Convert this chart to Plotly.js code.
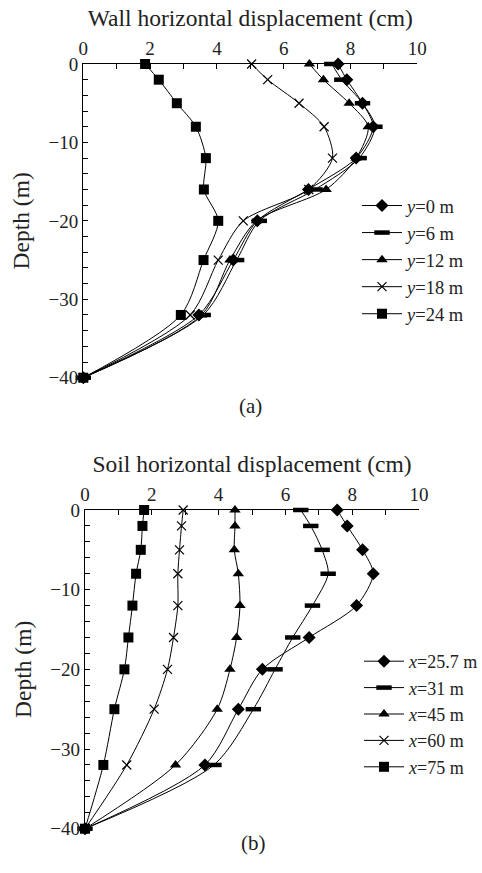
<!DOCTYPE html>
<html><head><meta charset="utf-8">
<script src="https://cdn.plot.ly/plotly-3.0.1.min.js"></script>
<style>html,body{margin:0;padding:0;background:#fff}#plot{width:482px;height:873px}</style>
</head><body><div id="plot"></div>
<script>
// Depths (m)
const depth = [0, -2, -5, -8, -12, -16, -20, -25, -32, -40];

// (a) Wall horizontal displacement (cm)
const wallNames = ["<i>y</i>=0 m", "<i>y</i>=6 m", "<i>y</i>=12 m", "<i>y</i>=18 m", "<i>y</i>=24 m"];
const wallY0  = [7.63, 7.89, 8.36, 8.68, 8.17, 6.74, 5.21, 4.49, 3.46, 0];
const wallY6  = [7.44, 7.74, 8.36, 8.73, 8.26, 6.94, 5.27, 4.59, 3.59, 0];
const wallY12 = [6.77, 7.19, 7.96, 8.53, 8.17, 7.27, 5.19, 4.39, 3.54, 0];
const wallY18 = [5.04, 5.52, 6.46, 7.21, 7.46, 6.75, 4.79, 4.04, 3.20, 0];
const wallY24 = [1.85, 2.26, 2.80, 3.37, 3.67, 3.61, 4.04, 3.60, 2.92, 0];

// (b) Soil horizontal displacement (cm)
const soilNames = ["<i>x</i>=25.7 m", "<i>x</i>=31 m", "<i>x</i>=45 m", "<i>x</i>=60 m", "<i>x</i>=75 m"];
const soilX257 = [7.55, 7.85, 8.31, 8.63, 8.13, 6.71, 5.31, 4.59, 3.59, 0];
const soilX31  = [6.46, 6.76, 7.10, 7.28, 6.81, 6.22, 5.69, 5.04, 3.86, 0];
const soilX45  = [4.49, 4.49, 4.47, 4.59, 4.64, 4.54, 4.34, 3.96, 2.71, 0];
const soilX60  = [2.94, 2.89, 2.83, 2.78, 2.78, 2.65, 2.47, 2.07, 1.25, 0];
const soilX75  = [1.77, 1.72, 1.67, 1.53, 1.42, 1.30, 1.18, 0.88, 0.55, 0];

const xTickVals = [0, 2, 4, 6, 8, 10];
const yTickVals = [0, -10, -20, -30, -40];

const FONT = "Liberation Serif, Times New Roman, serif";
const markerStyles = [
  {symbol: "diamond", size: 10, color: "#000", line: {width: 0}},
  {symbol: "line-ew-open", size: 11, color: "#000", line: {width: 4.5, color: "#000"}},
  {symbol: "triangle-up", size: 10, color: "#000", line: {width: 0}},
  {symbol: "x-thin-open", size: 9, color: "#000", line: {width: 1.2, color: "#000"}},
  {symbol: "square", size: 10, color: "#000", line: {width: 0}}
];

function mk(xs, name, i, xa, ya, leg) {
  return {
    x: xs, y: depth, name: name, xaxis: xa, yaxis: ya, legend: leg,
    type: "scatter", mode: "lines+markers", cliponaxis: false,
    line: {color: "#000", width: 1, shape: "spline", smoothing: 0.8},
    marker: markerStyles[i]
  };
}

const wallSeries = [wallY0, wallY6, wallY12, wallY18, wallY24];
const soilSeries = [soilX257, soilX31, soilX45, soilX60, soilX75];
const data = [];
wallSeries.forEach((s, i) => data.push(mk(s, wallNames[i], i, "x", "y", "legend")));
soilSeries.forEach((s, i) => data.push(mk(s, soilNames[i], i, "x2", "y2", "legend2")));

const W = 482, H = 873;
function xaxisDef(l, r, anchor, title) {
  return {
    domain: [l / W, r / W], anchor: anchor, side: "top", range: [0, 10], automargin: false,
    tickvals: xTickVals, ticks: "inside", ticklen: 5, tickwidth: 1, tickcolor: "#000",
    minor: {dtick: 1, ticks: "inside", ticklen: 5, tickwidth: 1, tickcolor: "#000"},
    showline: true, linecolor: "#000", linewidth: 1.2, showgrid: false, zeroline: false,
    tickfont: {family: FONT, size: 19, color: "#222"},
    title: {text: title, font: {family: FONT, size: 23.5, color: "#222"}, standoff: 5},
    fixedrange: true
  };
}
function yaxisDef(b, t, anchor) {
  return {
    domain: [1 - b / H, 1 - t / H], anchor: anchor, range: [-40, 0], automargin: false,
    tickvals: yTickVals, ticks: "inside", ticklen: 5, tickwidth: 1, tickcolor: "#000",
    minor: {dtick: 2, ticks: "inside", ticklen: 5, tickwidth: 1, tickcolor: "#000"},
    showline: true, linecolor: "#000", linewidth: 1.2, showgrid: false, zeroline: false,
    tickfont: {family: FONT, size: 19, color: "#222"},
    title: {text: "Depth (m)", font: {family: FONT, size: 23.5, color: "#222"}, standoff: 12},
    fixedrange: true
  };
}

const layout = {
  width: W, height: H, margin: {l: 0, r: 0, t: 0, b: 0, autoexpand: false},
  paper_bgcolor: "#fff", plot_bgcolor: "#fff", showlegend: true,
  font: {family: FONT, color: "#222"},
  xaxis: xaxisDef(83.3, 417.3, "y", "Wall horizontal displacement (cm)"),
  yaxis: yaxisDef(377.7, 64, "x"),
  xaxis2: xaxisDef(85, 419, "y2", "Soil horizontal displacement (cm)"),
  yaxis2: yaxisDef(828.7, 510, "x2"),
  legend: {x: 357 / W, y: 1 - 187 / H, xanchor: "left", yanchor: "top", tracegroupgap: 0,
           font: {family: FONT, size: 18.5, color: "#222"}, bgcolor: "rgba(0,0,0,0)", itemwidth: 40},
  legend2: {x: 359 / W, y: 1 - 643 / H, xanchor: "left", yanchor: "top", tracegroupgap: 0,
           font: {family: FONT, size: 18, color: "#222"}, bgcolor: "rgba(0,0,0,0)", itemwidth: 40},
  annotations: [
    {text: "(a)", x: 250 / W, y: 1 - 406 / H, xref: "paper", yref: "paper", showarrow: false,
     font: {family: FONT, size: 21, color: "#222"}},
    {text: "(b)", x: 253 / W, y: 1 - 857 / H, xref: "paper", yref: "paper", showarrow: false,
     font: {family: FONT, size: 21, color: "#222"}}
  ]
};

Plotly.newPlot("plot", data, layout, {displayModeBar: false, staticPlot: true});
</script>
</body></html>
